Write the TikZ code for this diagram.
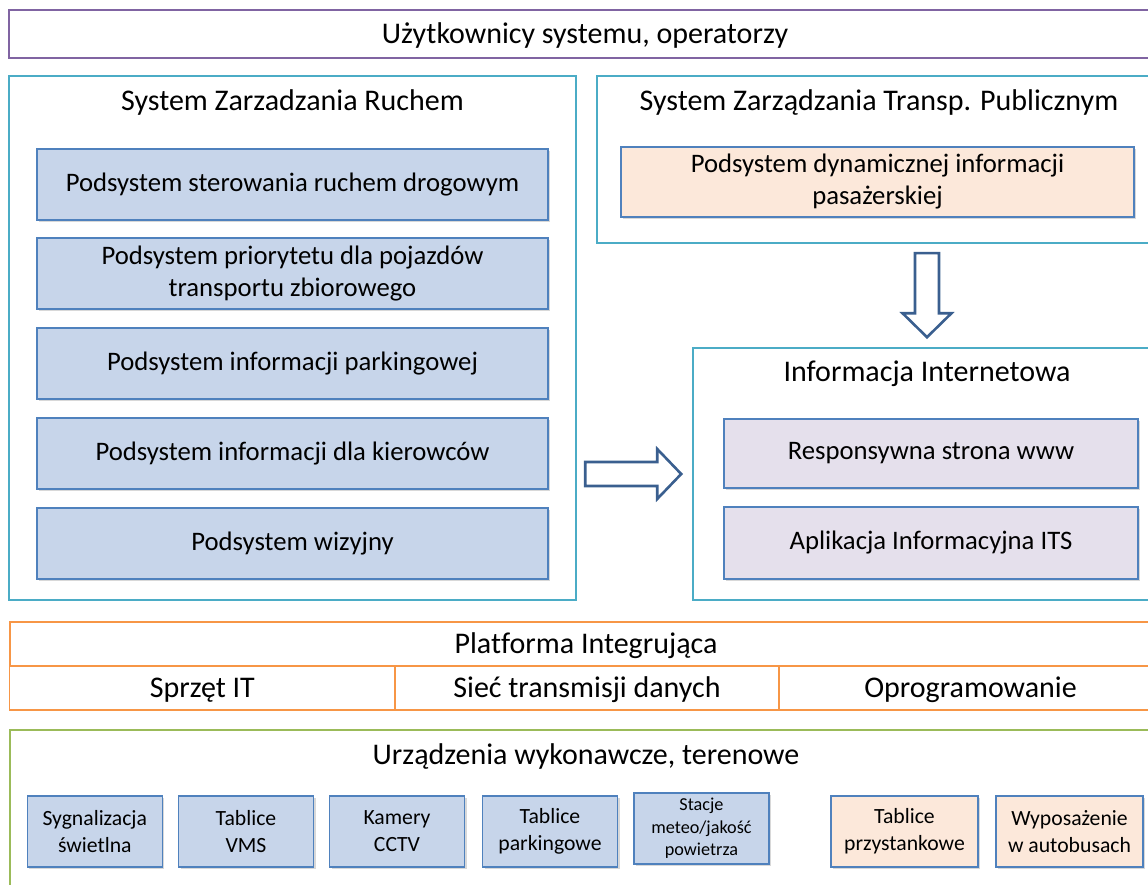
\documentclass[tikz,border=0pt]{standalone}
\usepackage{fontspec}
\setmainfont{Carlito}[Ligatures=NoCommon]
\usepackage{tikz}
\usetikzlibrary{positioning,shadows}

\definecolor{fiolet}{HTML}{8064A2}
\definecolor{turkus}{HTML}{4BACC6}
\definecolor{pomarancz}{HTML}{F79646}
\definecolor{zielen}{HTML}{9BBB59}
\definecolor{ramkapod}{HTML}{4F81BD}
\definecolor{niebieski}{HTML}{C7D5EA}
\definecolor{brzoskwinia}{HTML}{FCE8DA}
\definecolor{lawenda}{HTML}{E5E0EC}
\definecolor{strzalka}{HTML}{3A5F8F}

\begin{document}
\begin{tikzpicture}[x=1pt,y=-1pt,
  heading/.style={inner sep=0,text height=19pt,text depth=0pt,font=\fontsize{30}{36}\selectfont},
  ramka/.style={draw=turkus,line width=1.6pt,fill=white,inner sep=0},
  podsys/.style={draw=ramkapod,line width=1.6pt,fill=niebieski,align=center,inner sep=0,
    minimum width=511,minimum height=71,font=\fontsize{26.7}{32}\selectfont,
    drop shadow={opacity=.3,shadow xshift=2pt,shadow yshift=-2pt}},
  urzadz/.style={podsys,minimum width=135,minimum height=71,font=\fontsize{21.7}{27}\selectfont},
  pas/.style={heading,draw=pomarancz,line width=1.6pt,minimum height=44},
  blok/.style={draw=strzalka,line width=2.6pt,fill=white,line join=miter}]
\useasboundingbox (0,0) rectangle (1148,885);

% uzytkownicy
\node[heading,draw=fiolet,line width=1.6pt,minimum width=1152,minimum height=48] (users) at (585,34) {Użytkownicy systemu, operatorzy};

% system zarzadzania ruchem
\node[ramka,minimum width=567,minimum height=524] (szr) at (292.5,338) {};
\node[heading] (szrt) at ([yshift=-25.5pt]szr.north) {System Zarzadzania Ruchem};
\node[podsys] (p1) at (292.5,184.5) {Podsystem sterowania ruchem drogowym};
\node[podsys] (p2) at (292.5,273.5) {Podsystem priorytetu dla pojazdów\\transportu zbiorowego};
\node[podsys] (p3) at (292.5,363.5) {Podsystem informacji parkingowej};
\node[podsys] (p4) at (292.5,453.5) {Podsystem informacji dla kierowców};
\node[podsys] (p5) at (292.5,543.5) {Podsystem wizyjny};

% transport publiczny
\node[ramka,minimum width=564,minimum height=167] (sztp) at (879,159.5) {};
\node[heading] (sztpt) at ([yshift=-25.5pt]sztp.north) {System Zarządzania Transp. Publicznym};
\node[podsys,fill=brzoskwinia,minimum width=513,minimum height=70] (dip) at (877.5,182) {Podsystem dynamicznej informacji\\pasażerskiej};

% informacja internetowa
\node[ramka,minimum width=468,minimum height=252] (ii) at (927,474) {};
\node[heading] (iit) at ([yshift=-25pt]ii.north) {Informacja Internetowa};
\node[podsys,fill=lawenda,minimum width=414,minimum height=69] (www) at (931,453.5) {Responsywna strona www};
\node[podsys,fill=lawenda,minimum width=414,minimum height=72] (app) at (931,543) {Aplikacja Informacyjna ITS};

% strzalki
\draw[blok] ([xshift=-11pt]ii.west) -- ++(-24,-25) -- ++(0,13) -- ++(-72,0) -- ++(0,24) -- ++(72,0) -- ++(0,13) -- cycle;
\draw[blok] ([yshift=10pt]ii.north) -- ++(-24.5,-24) -- ++(12.5,0) -- ++(0,-60) -- ++(24,0) -- ++(0,60) -- ++(12.5,0) -- cycle;

% platforma
\node[pas,minimum width=1152] (pi) at (586,644) {Platforma Integrująca};
\node[pas,minimum width=385.5] (it) at (202.3,688) {Sprzęt IT};
\node[pas,minimum width=383.5] (siec) at (587,688) {Sieć transmisji danych};
\node[pas,minimum width=383.5] (oprog) at (970.5,688) {Oprogramowanie};

% urzadzenia
\node[ramka,draw=zielen,minimum width=1152,minimum height=170] (uw) at (586,815) {};
\node[heading] (uwt) at ([yshift=-25.5pt]uw.north) {Urządzenia wykonawcze, terenowe};
\node[urzadz] (d1) at (94.8,831.5) {Sygnalizacja\\świetlna};
\node[urzadz] (d2) at (246,831.5) {Tablice\\VMS};
\node[urzadz] (d3) at (397,831.5) {Kamery\\CCTV};
\node[urzadz] (d4) at (550,831.5) {Tablice\\parkingowe};
\node[urzadz,font=\fontsize{18.2}{22.5}\selectfont] (d5) at (701.5,828.5) {Stacje\\meteo/jakość\\powietrza};
\node[urzadz,fill=brzoskwinia,minimum width=147] (d6) at (904.5,831.5) {Tablice\\przystankowe};
\node[urzadz,fill=brzoskwinia,minimum width=147] (d7) at (1069.5,831.5) {Wyposażenie\\w autobusach};
\end{tikzpicture}
\end{document}
